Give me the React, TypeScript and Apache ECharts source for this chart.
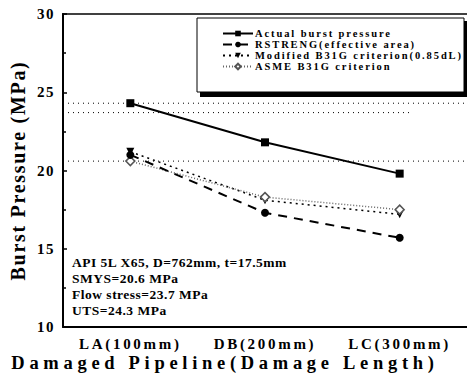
import React, { useEffect, useRef } from "react";
import * as echarts from "echarts";

const categories = ["LA(100mm)", "DB(200mm)", "LC(300mm)"];
const actual = [24.3, 21.8, 19.8];
const rstreng = [21.0, 17.3, 15.7];
const modifiedB31G = [21.2, 18.1, 17.2];
const asmeB31G = [20.6, 18.3, 17.5];
const refUTS = 24.3;
const refFlow = 23.7;
const refSMYS = 20.6;
const seriesNames = [
  "Actual burst pressure",
  "RSTRENG(effective area)",
  "Modified B31G criterion(0.85dL)",
  "ASME B31G criterion",
];
const notes = [
  "API 5L X65, D=762mm, t=17.5mm",
  "SMYS=20.6 MPa",
  "Flow stress=23.7 MPa",
  "UTS=24.3 MPa",
];
const yTitle = "Burst Pressure (MPa)";
const xTitle = "Damaged Pipeline(Damage Length)";

const FONT = "Liberation Serif";

export default function App() {
  const ref = useRef<HTMLDivElement>(null);
  useEffect(() => {
    const chart = echarts.init(ref.current!, null, { renderer: "svg" });
    const refLine = (y: number, x0: number, x1: number) => ({
      type: "line",
      xAxisIndex: 1,
      yAxisIndex: 0,
      data: [[x0, y], [x1, y]],
      symbol: "none",
      silent: true,
      lineStyle: { color: "#000", width: 1, type: [1, 4] },
      z: 1,
    });
    chart.setOption({
      animation: false,
      backgroundColor: "#fff",
      grid: { left: 62, top: 14, right: -3, bottom: 51, show: false },
      xAxis: [
        {
          type: "category",
          data: categories,
          axisLine: { onZero: false, lineStyle: { color: "#000", width: 2 } },
          axisTick: { inside: true, alignWithLabel: true, length: 5, lineStyle: { color: "#000", width: 2 } },
          axisLabel: { color: "#000", fontFamily: FONT, fontWeight: "bold", fontSize: 15, margin: 9 },
        },
        { type: "value", min: -0.5, max: 2.5, show: false },
      ],
      yAxis: {
        type: "value",
        min: 10,
        max: 30,
        interval: 5,
        name: yTitle,
        nameLocation: "middle",
        nameGap: 35,
        nameTextStyle: { color: "#000", fontFamily: FONT, fontWeight: "bold", fontSize: 20 },
        axisLine: { show: true, onZero: false, lineStyle: { color: "#000", width: 2 } },
        axisTick: { inside: true, length: 4, lineStyle: { color: "#000", width: 1.5 } },
        minorTick: { show: true, splitNumber: 2, length: 3, lineStyle: { color: "#000", width: 1.5 } },
        splitLine: { show: false },
        axisLabel: { color: "#000", fontFamily: FONT, fontWeight: "bold", fontSize: 15, margin: 8 },
      },
      series: [
        refLine(refUTS, -0.5, 2.5),
        refLine(refFlow, -0.5, 2.08),
        refLine(refSMYS, -0.5, 2.5),
        {
          name: seriesNames[0],
          type: "line",
          data: actual,
          symbol: "rect",
          symbolSize: 8,
          itemStyle: { color: "#000" },
          lineStyle: { color: "#000", width: 2 },
          z: 5,
        },
        {
          name: seriesNames[1],
          type: "line",
          data: rstreng,
          symbol: "circle",
          symbolSize: 8,
          itemStyle: { color: "#000" },
          lineStyle: { color: "#000", width: 2, type: [9, 7] },
          z: 4,
        },
        {
          name: seriesNames[2],
          type: "line",
          data: modifiedB31G,
          symbol: "triangle",
          symbolRotate: 180,
          symbolSize: 8,
          itemStyle: { color: "#000" },
          lineStyle: { color: "#000", width: 1.5, type: [2, 4] },
          z: 3,
        },
        {
          name: seriesNames[3],
          type: "line",
          data: asmeB31G,
          symbol: "diamond",
          symbolSize: 9,
          itemStyle: { color: "#fff", borderColor: "#555", borderWidth: 1.5 },
          lineStyle: { color: "#666", width: 1.5, type: [1, 2] },
          z: 3,
        },
      ],
      legend: {
        orient: "vertical",
        left: 222,
        top: 28,
        itemGap: 0,
        itemWidth: 30,
        itemHeight: 7,
        padding: 0,
        data: seriesNames,
        textStyle: { color: "#000", fontFamily: FONT, fontWeight: "bold", fontSize: 10.5, lineHeight: 11, padding: [0, 0, 0, -3] },
        z: 10,
      },
      graphic: [
        { type: "rect", z: 8, shape: { x: 200, y: 21, width: 268, height: 76 }, style: { fill: "#000" } },
        { type: "rect", z: 9, shape: { x: 197, y: 18, width: 267, height: 74 }, style: { fill: "#fff", stroke: "#000", lineWidth: 1 } },
        { type: "line", z: 2, shape: { x1: 62, y1: 14, x2: 467, y2: 14 }, style: { stroke: "#000", lineWidth: 1.5 } },
        {
          type: "text",
          z: 10,
          left: 72,
          top: 254,
          style: {
            text: notes.join("\n"),
            fill: "#000",
            fontFamily: FONT,
            fontWeight: "bold",
            fontSize: 13.5,
            lineHeight: 16,
          },
        },
        {
          type: "text",
          z: 10,
          x: 225,
          y: 363,
          style: {
            text: xTitle,
            fill: "#000",
            fontFamily: FONT,
            fontWeight: "bold",
            fontSize: 18.5,
            align: "center",
            verticalAlign: "middle",
          },
        },
      ],
    });

    const spacingFor = (s: string): number | null => {
      if (/^\d+$/.test(s)) return 1.5;
      if (categories.includes(s)) return 2.7;
      if (s === yTitle) return 1.7;
      if (s === xTitle) return 4.7;
      if (seriesNames.includes(s)) return 1.9;
      if (notes.includes(s)) return 0.5;
      return null;
    };
    const applySpacing = () => {
      const root = ref.current;
      if (!root) return;
      root.querySelectorAll("text").forEach((t) => {
        const sp = spacingFor((t.textContent || "").trim());
        if (sp != null) t.setAttribute("letter-spacing", String(sp));
      });
    };
    applySpacing();
    chart.on("finished", applySpacing);
    const timer = setTimeout(applySpacing, 0);
    return () => {
      clearTimeout(timer);
      chart.dispose();
    };
  }, []);
  return <div ref={ref} style={{ width: 467, height: 378, position: "absolute", left: 0, top: 0 }} />;
}
